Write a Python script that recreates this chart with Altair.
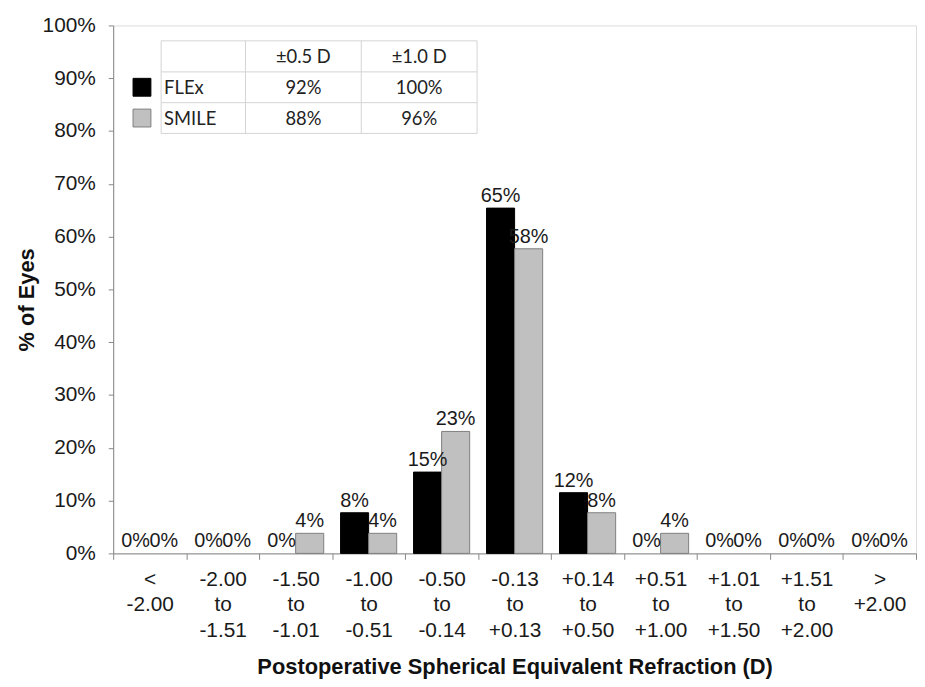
import altair as alt
import pandas as pd

categories = ["<|-2.00", "-2.00|to|-1.51", "-1.50|to|-1.01", "-1.00|to|-0.51",
              "-0.50|to|-0.14", "-0.13|to|+0.13", "+0.14|to|+0.50", "+0.51|to|+1.00",
              "+1.01|to|+1.50", "+1.51|to|+2.00", ">|+2.00"]
flex = [0, 0, 0, 7.7, 15.4, 65.4, 11.5, 0, 0, 0, 0]
smile = [0, 0, 3.8, 3.8, 23.1, 57.7, 7.7, 3.8, 0, 0, 0]
series = ["FLEx", "SMILE"]
fills = ["#000000", "#c0c0c0"]
strokes = ["#000000", "#7f7f7f"]
table_header = ["", "\u00b10.5 D", "\u00b11.0 D"]
table_rows = [["FLEx", "92%", "100%"], ["SMILE", "88%", "96%"]]

rows = []
for c, f, s in zip(categories, flex, smile):
    rows.append({"category": c, "group": "FLEx", "value": f})
    rows.append({"category": c, "group": "SMILE", "value": s})
df = pd.DataFrame(rows)

W, H = 809, 532
FONT = "Liberation Sans"

x_enc = alt.X("category:N", sort=categories,
              scale=alt.Scale(paddingInner=0, paddingOuter=0),
              axis=alt.Axis(title="Postoperative Spherical Equivalent Refraction (D)",
                            labelExpr="split(datum.label, '|')", labelAngle=0,
                            tickBand="extent", tickSize=6, labelPadding=9,
                            labelLineHeight=26, labelFontSize=21, labelColor="#1a1a1a",
                            titleFontSize=22, titleFontWeight="bold", titlePadding=16,
                            titleColor="#111111",
                            domainColor="#888888", tickColor="#888888"))
xoff = alt.XOffset("group:N", sort=series,
                   scale=alt.Scale(paddingInner=0, paddingOuter=0.3))
y_enc = alt.Y("value:Q", scale=alt.Scale(domain=[0, 100], nice=False),
              axis=alt.Axis(title="% of Eyes", values=list(range(0, 101, 10)),
                            labelExpr="datum.value + '%'", grid=False, tickSize=5,
                            labelPadding=13, labelFontSize=21, labelColor="#1a1a1a",
                            titleFontSize=22, titleFontWeight="bold", titlePadding=4,
                            titleColor="#111111", titleY=H / 2 + 10,
                            domainColor="#888888", tickColor="#888888"))

bars = alt.Chart(df).transform_filter("datum.value > 0").mark_bar(strokeWidth=1).encode(
    x=x_enc, xOffset=xoff, y=y_enc,
    color=alt.Color("group:N", scale=alt.Scale(domain=series, range=fills), legend=None),
    stroke=alt.Stroke("group:N", scale=alt.Scale(domain=series, range=strokes), legend=None),
)

labels = alt.Chart(df).transform_calculate(
    label="format(datum.value, '.0f') + '%'"
).mark_text(baseline="alphabetic", dy=-6, fontSize=20, color="#1a1a1a", font=FONT).encode(
    x=alt.X("category:N", sort=categories), xOffset=alt.XOffset("group:N", sort=series),
    y="value:Q", text="label:N",
)

# inset table (annotation) - pixel layout relative to plot area
one = alt.Data(values=[{"k": 1}])
col_x = [48.3, 133.3, 250, 366.7]
row_y = [15.5, 46.8, 77.8, 108.8]
TCOL = "#d4d4d4"
layers = [bars, labels]
for yv in row_y:
    layers.append(alt.Chart(one).mark_rule(color=TCOL, strokeWidth=1).encode(
        x=alt.value(col_x[0]), x2=alt.value(col_x[-1]), y=alt.value(yv)))
for xv in col_x:
    layers.append(alt.Chart(one).mark_rule(color=TCOL, strokeWidth=1).encode(
        x=alt.value(xv), y=alt.value(row_y[0]), y2=alt.value(row_y[-1])))

TFONT = "Lato"
all_rows = [table_header] + table_rows
for ri, row in enumerate(all_rows):
    yc = (row_y[ri] + row_y[ri + 1]) / 2 + 1
    for ci, txt in enumerate(row):
        if not txt:
            continue
        if ci == 0:
            layers.append(alt.Chart(one).mark_text(
                text=txt, align="left", baseline="middle", fontSize=18.5, font=TFONT,
                color="#222222").encode(x=alt.value(col_x[0] + 3), y=alt.value(yc)))
        else:
            layers.append(alt.Chart(one).mark_text(
                text=txt, align="center", baseline="middle", fontSize=18.5, font=TFONT,
                color="#222222").encode(
                x=alt.value((col_x[ci] + col_x[ci + 1]) / 2), y=alt.value(yc)))

# legend squares
for i, s in enumerate(series):
    yc = (row_y[i + 1] + row_y[i + 2]) / 2
    layers.append(alt.Chart(one).mark_rect(fill=fills[i], stroke=strokes[i], strokeWidth=1).encode(
        x=alt.value(20), x2=alt.value(38), y=alt.value(yc - 9), y2=alt.value(yc + 9)))

chart = alt.layer(*layers).properties(
    width=W, height=H,
    padding={"left": 7, "top": 4, "right": 0, "bottom": 1},
).configure_view(stroke=None).configure(font=FONT)

chart.save("out.html", embed_options={"renderer": "svg", "actions": False})
